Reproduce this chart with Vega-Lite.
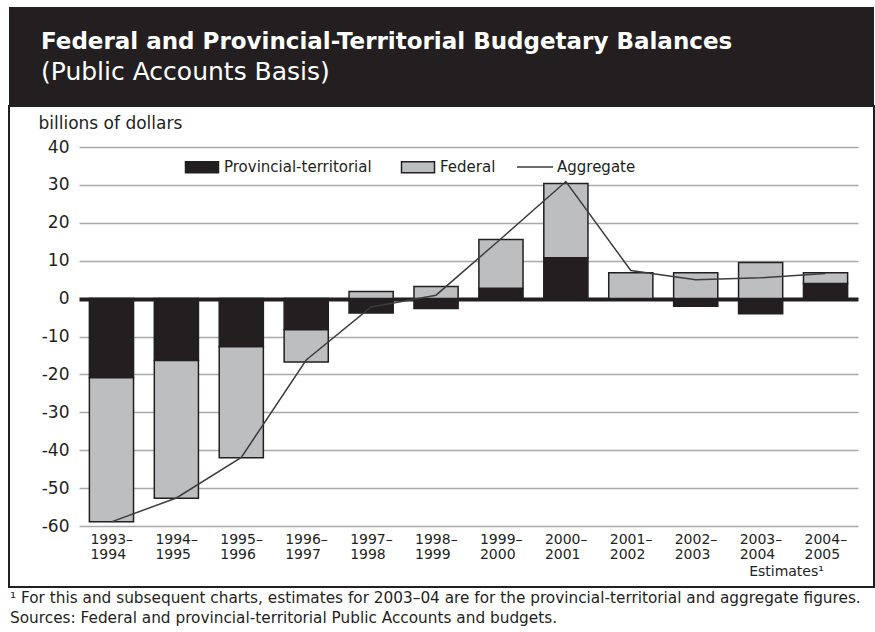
{
  "$schema": "https://vega.github.io/schema/vega-lite/v6.json",
  "padding": {"left": 8, "top": 7, "right": 0, "bottom": 0},
  "background": "white",
  "datasets": {
    "bars": [
      {"period": "1993–1994", "series": "Provincial-territorial", "ord": 1, "value": -20.9},
      {"period": "1993–1994", "series": "Federal", "ord": 2, "value": -38.0},
      {"period": "1994–1995", "series": "Provincial-territorial", "ord": 1, "value": -16.3},
      {"period": "1994–1995", "series": "Federal", "ord": 2, "value": -36.4},
      {"period": "1995–1996", "series": "Provincial-territorial", "ord": 1, "value": -12.7},
      {"period": "1995–1996", "series": "Federal", "ord": 2, "value": -29.3},
      {"period": "1996–1997", "series": "Provincial-territorial", "ord": 1, "value": -8.2},
      {"period": "1996–1997", "series": "Federal", "ord": 2, "value": -8.5},
      {"period": "1997–1998", "series": "Provincial-territorial", "ord": 1, "value": -3.8},
      {"period": "1997–1998", "series": "Federal", "ord": 2, "value": 1.9},
      {"period": "1998–1999", "series": "Provincial-territorial", "ord": 1, "value": -2.6},
      {"period": "1998–1999", "series": "Federal", "ord": 2, "value": 3.2},
      {"period": "1999–2000", "series": "Provincial-territorial", "ord": 1, "value": 2.7},
      {"period": "1999–2000", "series": "Federal", "ord": 2, "value": 12.9},
      {"period": "2000–2001", "series": "Provincial-territorial", "ord": 1, "value": 10.8},
      {"period": "2000–2001", "series": "Federal", "ord": 2, "value": 19.6},
      {"period": "2001–2002", "series": "Provincial-territorial", "ord": 1, "value": 0.0},
      {"period": "2001–2002", "series": "Federal", "ord": 2, "value": 6.8},
      {"period": "2002–2003", "series": "Provincial-territorial", "ord": 1, "value": -2.0},
      {"period": "2002–2003", "series": "Federal", "ord": 2, "value": 6.8},
      {"period": "2003–2004", "series": "Provincial-territorial", "ord": 1, "value": -4.0},
      {"period": "2003–2004", "series": "Federal", "ord": 2, "value": 9.5},
      {"period": "2004–2005", "series": "Provincial-territorial", "ord": 1, "value": 4.0},
      {"period": "2004–2005", "series": "Federal", "ord": 2, "value": 2.8}
    ],
    "agg": [
      {"period": "1993–1994", "series": "Aggregate", "aggregate": -58.9},
      {"period": "1994–1995", "series": "Aggregate", "aggregate": -52.6},
      {"period": "1995–1996", "series": "Aggregate", "aggregate": -41.9},
      {"period": "1996–1997", "series": "Aggregate", "aggregate": -16.2},
      {"period": "1997–1998", "series": "Aggregate", "aggregate": -2.2},
      {"period": "1998–1999", "series": "Aggregate", "aggregate": 0.9},
      {"period": "1999–2000", "series": "Aggregate", "aggregate": 15.8},
      {"period": "2000–2001", "series": "Aggregate", "aggregate": 30.9},
      {"period": "2001–2002", "series": "Aggregate", "aggregate": 7.4},
      {"period": "2002–2003", "series": "Aggregate", "aggregate": 5.0},
      {"period": "2003–2004", "series": "Aggregate", "aggregate": 5.5},
      {"period": "2004–2005", "series": "Aggregate", "aggregate": 6.6}
    ]
  },
  "title": {
    "text": ["¹ For this and subsequent charts, estimates for 2003–04 are for the provincial-territorial and aggregate figures.", "Sources: Federal and provincial-territorial Public Accounts and budgets."],
    "orient": "bottom",
    "anchor": "start",
    "font": "DejaVu Sans",
    "fontSize": 15.3,
    "fontWeight": "normal",
    "color": "#231f20",
    "lineHeight": 20,
    "offset": 3,
    "dx": 2
  },
  "spacing": 0,
  "vconcat": [
    {
      "width": 865,
      "height": 98,
      "view": {"fill": "#231f20", "stroke": null},
      "title": {
        "text": "Federal and Provincial-Territorial Budgetary Balances",
        "subtitle": "(Public Accounts Basis)",
        "orient": "top",
        "anchor": "start",
        "offset": -78,
        "dx": 32,
        "font": "DejaVu Sans",
        "fontSize": 23,
        "fontWeight": "bold",
        "color": "white",
        "subtitleFont": "DejaVu Sans",
        "subtitleFontSize": 25,
        "subtitleColor": "white",
        "subtitlePadding": 6
      },
      "data": {"values": [{}]},
      "mark": {"type": "text", "text": ""}
    },
    {
      "width": 865,
      "height": 481,
      "view": {"fill": "white", "stroke": "#231f20", "strokeWidth": 2},
      "layer": [
        {
          "data": {"name": "bars"},
          "mark": {"type": "bar", "stroke": "#231f20", "strokeWidth": 1.5},
          "encoding": {
            "x": {
              "field": "period",
              "type": "nominal",
              "sort": null,
              "scale": {"range": [70, 849], "paddingInner": 0.32, "paddingOuter": 0.16},
              "axis": {
                "orient": "bottom",
                "offset": -61,
                "title": "Estimates¹",
                "titleX": 777,
                "titleY": 45,
                "titleAlign": "center",
                "titleBaseline": "middle",
                "titleFont": "DejaVu Sans",
                "titleFontSize": 14,
                "titleFontWeight": "normal",
                "titleColor": "#231f20",
                "domain": false,
                "ticks": false,
                "grid": false,
                "labelAngle": 0,
                "labelFont": "DejaVu Sans",
                "labelFontSize": 14,
                "labelColor": "#231f20",
                "labelPadding": 6,
                "labelLineHeight": 15,
                "labelBaseline": "top",
                "labelAlign": "left",
                "labelOffset": -21,
                "labelExpr": "[substring(datum.value, 0, 5), substring(datum.value, 5)]"
              }
            },
            "y": {
              "field": "value",
              "type": "quantitative",
              "stack": "zero",
              "scale": {"domain": [-60, 40], "range": [420, 41], "nice": false, "zero": false},
              "axis": {
                "offset": -70,
                "title": "billions of dollars",
                "titleAngle": 0,
                "titleX": -41,
                "titleY": 17,
                "titleAlign": "left",
                "titleBaseline": "middle",
                "titleFont": "DejaVu Sans",
                "titleFontSize": 17,
                "titleFontWeight": "normal",
                "titleColor": "#231f20",
                "domain": false,
                "ticks": false,
                "values": [-60, -50, -40, -30, -20, -10, 0, 10, 20, 30, 40],
                "labelFont": "DejaVu Sans",
                "labelFontSize": 17,
                "labelColor": "#231f20",
                "labelPadding": 10,
                "labelExpr": "'' + datum.value",
                "grid": true,
                "gridColor": {"condition": {"test": "datum.value === 0", "value": "#231f20"}, "value": "#a7a9ac"},
                "gridWidth": {"condition": {"test": "datum.value === 0", "value": 4}, "value": 1.5},
                "gridOpacity": 1
              }
            },
            "fill": {
              "field": "series",
              "type": "nominal",
              "scale": {"domain": ["Provincial-territorial", "Federal"], "range": ["#231f20", "#bcbec0"]},
              "legend": {
                "orient": "none",
                "legendX": 181,
                "legendY": 148,
                "direction": "horizontal",
                "title": null,
                "symbolType": "M-1.5,-0.5H1.5V0.5H-1.5Z",
                "symbolSize": 484,
                "symbolStrokeColor": "#231f20",
                "symbolStrokeWidth": 1.5,
                "symbolOpacity": 1,
                "labelFont": "DejaVu Sans",
                "labelFontSize": 15,
                "labelColor": "#231f20",
                "labelOffset": 10,
                "columnPadding": 26,
                "padding": 0
              }
            },
            "order": {"field": "ord", "type": "quantitative"}
          }
        },
        {
          "data": {"name": "agg"},
          "mark": {"type": "line", "strokeWidth": 1.5},
          "encoding": {
            "x": {"field": "period", "type": "nominal", "sort": null},
            "y": {"field": "aggregate", "type": "quantitative"},
            "stroke": {
              "field": "series",
              "type": "nominal",
              "scale": {"domain": ["Aggregate"], "range": ["#3d3d3d"]},
              "legend": {
                "orient": "none",
                "legendX": 507,
                "legendY": 141,
                "title": null,
                "symbolType": "stroke",
                "symbolSize": 1296,
                "symbolStrokeWidth": 1.5,
                "labelFont": "DejaVu Sans",
                "labelFontSize": 15,
                "labelColor": "#231f20",
                "labelOffset": 3,
                "padding": 0
              }
            }
          }
        }
      ]
    }
  ]
}
